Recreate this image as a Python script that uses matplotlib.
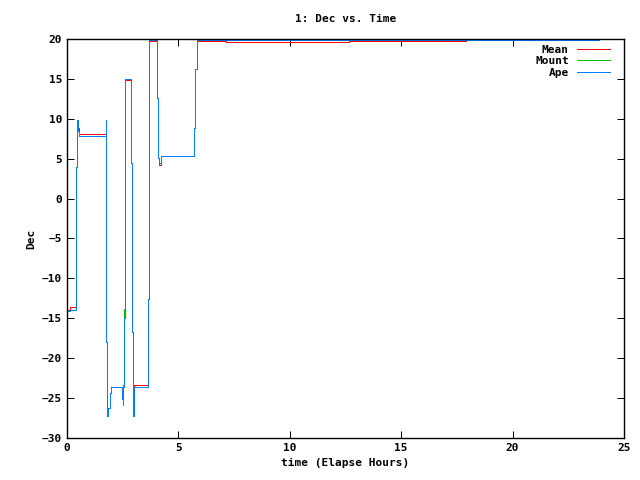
import matplotlib
matplotlib.use("Agg")
import matplotlib.pyplot as plt

# Ape (blue) step data: time in hours, declination in degrees
ape_t = [0.0, 0.13, 0.39, 0.42, 0.47, 0.50, 0.55, 1.73, 1.77, 1.81, 1.86, 1.92, 1.97, 2.03,
         2.45, 2.47, 2.50, 2.52, 2.56, 2.60, 2.62, 2.89, 2.93, 2.98, 3.00, 3.02, 3.62, 3.66,
         3.70, 4.05, 4.09, 4.13, 4.20, 4.28, 5.71, 5.76, 5.82, 23.88]
ape_v = [-14.1, -13.9, -7.8, 4.0, 9.8, 8.5, 7.9, 9.8, -18.0, -27.3, -26.3, -24.4, -23.6, -23.6,
         -25.1, -23.6, -25.9, -23.6, -15.0, 5.0, 15.0, 4.4, -16.7, -27.3, -25.1, -23.6, -12.6, 9.0,
         19.9, 12.6, 5.1, 4.4, 5.3, 5.3, 8.9, 16.2, 19.9, 19.9]

# Mount (green) follows Ape except near 2.6 h
mount_t = [0.0, 0.13, 0.39, 0.42, 0.47, 0.50, 0.55, 1.73, 1.77, 1.81, 1.86, 1.92, 1.97, 2.03,
           2.45, 2.47, 2.50, 2.52, 2.56, 2.60, 2.62, 2.89, 2.93, 2.98, 3.00, 3.02, 3.62, 3.66,
           3.70, 4.05, 4.09, 4.13, 4.20, 4.28, 5.71, 5.76, 5.82, 23.88]
mount_v = [-14.1, -13.9, -7.8, 4.0, 9.8, 8.5, 7.9, 9.8, -18.0, -27.3, -26.3, -24.4, -23.6, -23.6,
           -25.1, -23.6, -25.9, -23.4, -13.8, 4.8, 15.0, 4.4, -16.7, -27.3, -25.1, -23.6, -12.6, 9.0,
           19.9, 12.6, 5.1, 4.4, 5.3, 5.3, 8.9, 16.2, 19.9, 19.9]

# Mean (red)
mean_t = [0.0, 0.13, 0.39, 0.42, 0.47, 0.50, 0.55, 1.73, 1.77, 1.81, 1.86, 1.92, 1.97, 2.03,
          2.45, 2.47, 2.50, 2.52, 2.56, 2.60, 2.62, 2.89, 2.93, 2.98, 3.00, 3.02, 3.62, 3.66,
          3.70, 4.05, 4.09, 4.13, 4.20, 4.28, 5.71, 5.76, 5.82, 7.12, 12.66, 17.90]
mean_v = [-14.0, -13.6, -7.8, 4.0, 9.8, 8.8, 8.1, 9.8, -18.0, -27.3, -26.3, -24.4, -23.6, -23.6,
          -25.1, -23.6, -25.9, -23.6, -15.0, 5.0, 14.8, 4.4, -16.7, -27.3, -25.1, -23.3, -12.6, 9.0,
          19.75, 12.6, 5.1, 4.2, 5.3, 5.3, 8.9, 16.2, 19.78, 19.65, 19.78, 19.78]

font = {"family": "DejaVu Sans Mono", "size": 8, "weight": "bold"}
lw = 0.72  # one pixel at 100 dpi

fig = plt.figure(figsize=(6.4, 4.8), dpi=100)
ax = fig.add_axes([0.1047, 0.0875, 0.8703, 0.83125])

ax.plot(mean_t, mean_v, color="#ff0000", lw=lw, drawstyle="steps-post", label="Mean")
ax.plot(mount_t, mount_v, color="#00c000", lw=lw, drawstyle="steps-post", label="Mount")
ax.plot(ape_t, ape_v, color="#0080ff", lw=lw, drawstyle="steps-post", label="Ape")

ax.set_xlim(0, 25)
ax.set_ylim(-30, 20)
ax.set_xticks(range(0, 26, 5))
ax.set_yticks(range(-30, 21, 5))
ax.tick_params(direction="in", length=5, top=True, right=True, width=lw)
for lab in ax.get_xticklabels() + ax.get_yticklabels():
    lab.set_fontfamily("DejaVu Sans Mono")
    lab.set_fontsize(8)
    lab.set_fontweight("bold")
for s in ax.spines.values():
    s.set_linewidth(1.0)

ax.set_title("1: Dec vs. Time", fontdict=font, pad=12)
ax.set_xlabel("time (Elapse Hours)", fontdict=font)
ax.set_ylabel("Dec", fontdict=font)

leg = ax.legend(loc="upper right", bbox_to_anchor=(0.985, 1.0), frameon=False,
                markerfirst=False, handlelength=3.0,
                prop={"family": "DejaVu Sans Mono", "size": 8, "weight": "bold"},
                borderaxespad=0.1, labelspacing=0.15, handletextpad=0.7)

fig.savefig("out.png", dpi=100)
